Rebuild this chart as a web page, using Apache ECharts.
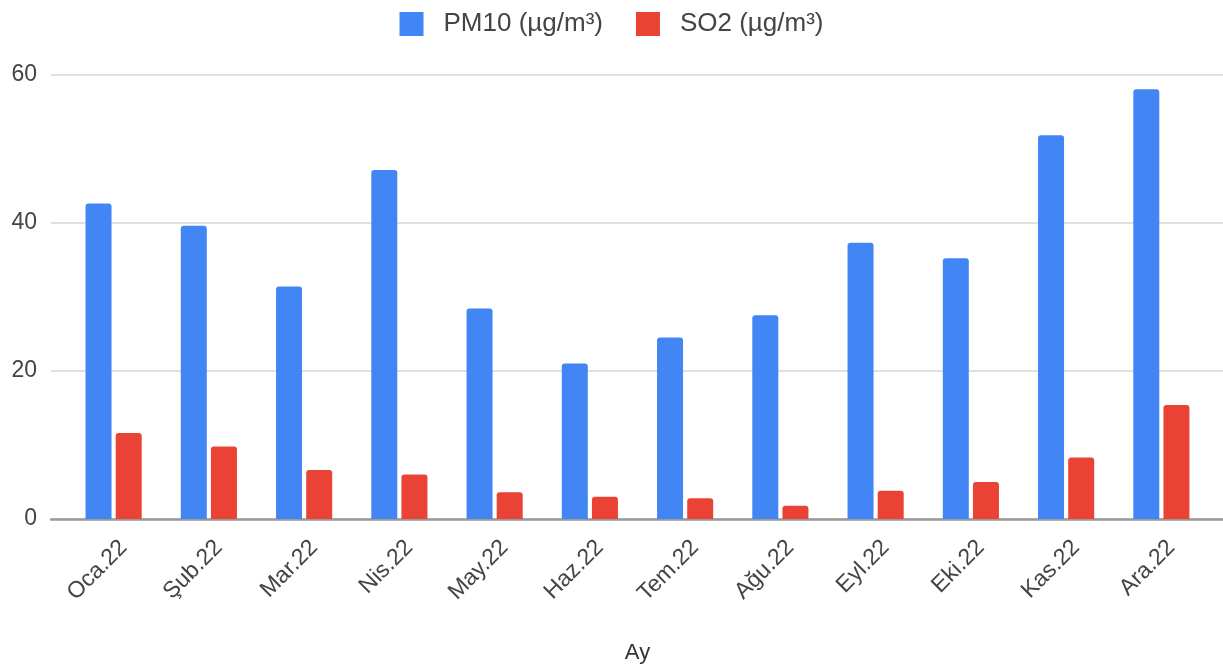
<!DOCTYPE html>
<html>
<head>
<meta charset="utf-8">
<script src="https://cdn.jsdelivr.net/npm/echarts@6/dist/echarts.min.js"></script>
<style>
  html, body { margin: 0; padding: 0; background: #fff; }
  #chart { width: 1223px; height: 670px; }
</style>
</head>
<body>
<div id="chart"></div>
<script>
// aylar
const months = ["Oca.22", "Şub.22", "Mar.22", "Nis.22", "May.22", "Haz.22",
  "Tem.22", "Ağu.22", "Eyl.22", "Eki.22", "Kas.22", "Ara.22"];
const pm10 = [42.6, 39.6, 31.4, 47.1, 28.4, 21.0, 24.5, 27.5, 37.3, 35.2, 51.8, 58.0];
const so2 = [11.6, 9.8, 6.6, 6.0, 3.6, 3.0, 2.8, 1.8, 3.8, 5.0, 8.3, 15.4];
const yTicks = [0, 20, 40, 60];

const font = 'Arial, "Liberation Sans", sans-serif';

let myChart = echarts.init(document.getElementById("chart"));
let options = {
  animation: false,
  textStyle: { fontFamily: font },
  color: ["#4285f4", "#ea4335"],
  legend: {
    top: 6,
    left: "center",
    itemWidth: 24,
    itemHeight: 24,
    itemGap: 33,
    icon: "rect",
    textStyle: { color: "#444", fontSize: 26, fontFamily: font, padding: [0, 0, 0, 15] },
    data: ["PM10 (µg/m³)", "SO2 (µg/m³)"],
  },
  grid: [
    // gridlines span the full width
    { left: 51, right: 0, top: 74.5, bottom: 151, outerBoundsMode: "none" },
    // bars sit inside this one
    { left: 66, right: 14, top: 74.5, bottom: 151, outerBoundsMode: "none" },
    // labels only, nudged right a bit
    { left: 76, right: 4, top: 74.5, bottom: 151, outerBoundsMode: "none" },
  ],
  xAxis: [
    {
      gridIndex: 0,
      type: "category",
      data: [""],
      axisLine: { show: true, lineStyle: { color: "#9a9a9a", width: 2.5 } },
      axisTick: { show: false },
      axisLabel: { show: false },
    },
    {
      gridIndex: 1,
      type: "category",
      data: months,
      axisLine: { show: false },
      axisTick: { show: false },
      axisLabel: { show: false },
      name: "Ay",
      nameLocation: "middle",
      nameGap: 123,
      nameTextStyle: { color: "#333", fontSize: 22, fontFamily: font },
    },
    {
      gridIndex: 2,
      type: "category",
      data: months,
      axisLine: { show: false },
      axisTick: { show: false },
      axisLabel: {
        rotate: 45,
        margin: 25,
        color: "#444",
        fontSize: 23,
        fontFamily: font,
      },
    },
  ],
  yAxis: [
    {
      gridIndex: 0,
      type: "value",
      min: yTicks[0],
      max: yTicks[yTicks.length - 1],
      interval: 20,
      axisLine: { show: false },
      axisTick: { show: false },
      axisLabel: { color: "#444", fontSize: 23, margin: 14, fontFamily: font },
      splitLine: { lineStyle: { color: "#e0e0e0", width: 2 } },
    },
    {
      gridIndex: 1,
      type: "value",
      min: yTicks[0],
      max: yTicks[yTicks.length - 1],
      interval: 20,
      show: false,
    },
    {
      gridIndex: 2,
      type: "value",
      min: yTicks[0],
      max: yTicks[yTicks.length - 1],
      interval: 20,
      show: false,
    },
  ],
  series: [
    {
      name: "PM10 (µg/m³)",
      type: "bar",
      xAxisIndex: 1,
      yAxisIndex: 1,
      barWidth: 26,
      barGap: "16%",
      itemStyle: { borderRadius: [3, 3, 0, 0] },
      data: pm10,
    },
    {
      name: "SO2 (µg/m³)",
      type: "bar",
      xAxisIndex: 1,
      yAxisIndex: 1,
      barWidth: 26,
      barGap: "16%",
      itemStyle: { borderRadius: [3, 3, 0, 0] },
      data: so2,
    },
  ],
};
myChart.setOption(options);
</script>
</body>
</html>
